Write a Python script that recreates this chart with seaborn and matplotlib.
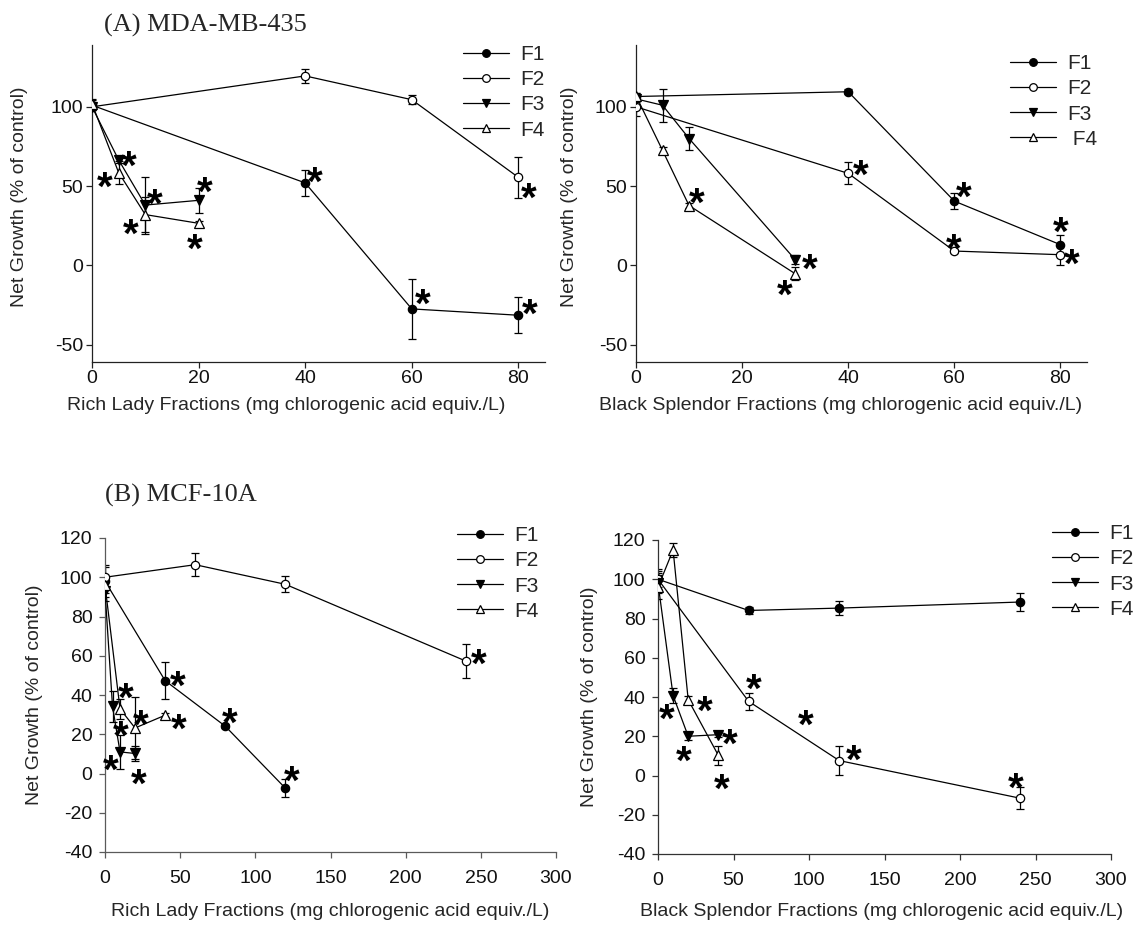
import numpy as np
import pandas as pd
import matplotlib
matplotlib.use("Agg")
import matplotlib.pyplot as plt
from matplotlib.lines import Line2D
import seaborn as sns

sns.set_theme(style="ticks")
plt.rcParams['font.family'] = ['Liberation Sans', 'DejaVu Sans']
plt.rcParams['axes.unicode_minus'] = False

# ---------------- data ----------------
series_names = ["F1", "F2", "F3", "F4"]

# (A) MDA-MB-435, Rich Lady
a_rl_x = {"F1": [0, 40, 60, 80], "F2": [0, 40, 60, 80], "F3": [0, 5, 10, 20], "F4": [0, 5, 10, 20]}
a_rl_y = {"F1": [101, 52, -27.5, -31.5], "F2": [100, 119.5, 104.5, 55.5],
          "F3": [100, 66.5, 38, 41], "F4": [102, 58.5, 32, 26.5]}
a_rl_e = {"F1": [3, 8, 19, 11.5], "F2": [2, 4.5, 3, 13], "F3": [2, 2, 18, 8], "F4": [3, 7.5, 11, 1.5]}
a_rl_star_x = [6.8, 2.4, 11.8, 7.3, 21.2, 19.3, 41.8, 62, 82.2, 82]
a_rl_star_y = [69, 55.5, 45, 26, 52.3, 16.5, 58.7, -18.4, -24.7, 48.5]

# (A) MDA-MB-435, Black Splendor
a_bs_x = {"F1": [0, 40, 60, 80], "F2": [0, 40, 60, 80], "F3": [0, 5, 10, 30], "F4": [0, 5, 10, 30]}
a_bs_y = {"F1": [106.5, 109.5, 40.5, 13], "F2": [100, 58, 9, 6.7],
          "F3": [105, 101, 80, 3.6], "F4": [107, 72.5, 37.7, -5.3]}
a_bs_e = {"F1": [2, 1.5, 5, 6], "F2": [6, 7, 1, 6.5], "F3": [2, 10.5, 7, 3], "F4": [2, 2, 1.5, 4]}
a_bs_star_x = [11.4, 32.8, 28, 42.3, 61.7, 59.8, 80, 82.2]
a_bs_star_y = [45.7, 4, -12.8, 62.9, 49.2, 16.5, 27, 7]

# (B) MCF-10A, Rich Lady
b_rl_x = {"F1": [0, 40, 80, 120], "F2": [0, 60, 120, 240], "F3": [0, 5, 10, 20], "F4": [0, 10, 20, 40]}
b_rl_y = {"F1": [98, 47.3, 24.1, -7.5], "F2": [100, 106.4, 96.4, 57.3],
          "F3": [93, 34.2, 11, 10.2], "F4": [96, 32.9, 23.2, 29.7]}
b_rl_e = {"F1": [8, 9.3, 1, 4.5], "F2": [5, 5.8, 4, 8.7], "F3": [5, 8, 8.5, 4], "F4": [4, 5, 16, 1]}
b_rl_star_x = [3.8, 13.7, 10.4, 23.7, 22.6, 49.2, 48.6, 82.9, 124, 248.8]
b_rl_star_y = [6.6, 43.2, 24.1, 29.5, -0.5, 27.5, 49.5, 30.8, 1.2, 61]

# (B) MCF-10A, Black Splendor
b_bs_x = {"F1": [0, 60, 120, 240], "F2": [0, 60, 120, 240], "F3": [0, 10, 20, 40], "F4": [0, 10, 20, 40]}
b_bs_y = {"F1": [100, 84.1, 85.3, 88.4], "F2": [100, 37.8, 7.6, -11.6],
          "F3": [98, 40.7, 20, 20.8], "F4": [96, 114.9, 38.6, 10.2]}
b_bs_e = {"F1": [4, 2, 3.5, 4.7], "F2": [5, 4.3, 7.5, 5.5], "F3": [5, 4, 2, 1], "F4": [6, 3.5, 2, 5]}
b_bs_star_x = [5.7, 30.9, 17.2, 47.7, 41.9, 63.6, 97.8, 129.4, 237]
b_bs_star_y = [33.9, 38.1, 12.4, 20.8, -2, 49.2, 30.7, 12.7, -1.5]

top_xticks = [0, 20, 40, 60, 80]
top_yticks = [-50, 0, 50, 100]
bot_xticks = [0, 50, 100, 150, 200, 250, 300]
bot_yticks = [-40, -20, 0, 20, 40, 60, 80, 100, 120]

xlab_rl = "Rich Lady Fractions (mg chlorogenic acid equiv./L)"
xlab_bs = "Black Splendor Fractions (mg chlorogenic acid equiv./L)"
ylab = "Net Growth (% of control)"
title_a = "(A) MDA-MB-435"
title_b = "(B) MCF-10A"

marker_style = {
    "F1": dict(marker="o", mfc="black", ms=6),
    "F2": dict(marker="o", mfc="white", ms=6),
    "F3": dict(marker="v", mfc="black", ms=6.5),
    "F4": dict(marker="^", mfc="white", ms=6.5),
}

W, H = 1135, 926
fig = plt.figure(figsize=(W / 100, H / 100), dpi=100)


def fx(px):
    return px / W


def fy(py):
    return 1 - py / H


def make_ax(l, r, t, b):
    ax = fig.add_axes([fx(l), fy(b), fx(r) - fx(l), fy(t) - fy(b)])
    ax._pix = (l, r, t, b)
    return ax


FS = 14
STAR_FS = 29


def panel(ax, xs, ys, es, sx, sy, xlim, ylim, xticks, yticks, xlabel, xlab_pos, ylab_pos,
          xpad, ypad, spine_col, leg_pos, leg_labels):
    l, r, t, b = ax._pix
    for name in series_names:
        df = pd.DataFrame({"x": xs[name], "y": ys[name]})
        st = marker_style[name]
        sns.lineplot(data=df, x="x", y="y", ax=ax, color="black", lw=0.9,
                     marker=st["marker"], markersize=st["ms"], markerfacecolor=st["mfc"],
                     markeredgecolor="black", markeredgewidth=0.9, errorbar=None,
                     sort=False, zorder=3)
        ax.errorbar(xs[name], ys[name], yerr=es[name], fmt="none", ecolor="black",
                    elinewidth=0.9, capsize=3.2, capthick=0.9, zorder=2)
    for x, y in zip(sx, sy):
        ax.annotate("*", xy=(x, y), xytext=(0, -0.56 * STAR_FS), textcoords="offset points",
                    ha="center", va="baseline", fontsize=STAR_FS, fontweight="bold",
                    color="black", annotation_clip=False)
    ax.set_xlim(*xlim)
    ax.set_ylim(*ylim)
    ax.set_xticks(xticks)
    ax.set_yticks(yticks)
    ax.set_xlabel(xlabel, fontsize=FS, va="center", ha="center")
    ax.set_ylabel(ylab, fontsize=FS, va="center", ha="center")
    ax.xaxis.set_label_coords((xlab_pos[0] - l) / (r - l), (b - xlab_pos[1]) / (b - t))
    ax.yaxis.set_label_coords((ylab_pos[0] - l) / (r - l), (b - ylab_pos[1]) / (b - t))
    ax.tick_params(axis="both", labelsize=FS, direction="out", length=4, width=0.9,
                   color=spine_col, labelcolor="#111111")
    ax.tick_params(axis="x", pad=xpad)
    ax.tick_params(axis="y", pad=ypad)
    for s in ["top", "right"]:
        ax.spines[s].set_visible(False)
    for s in ["left", "bottom"]:
        ax.spines[s].set_linewidth(0.9)
        ax.spines[s].set_color(spine_col)
    handles = []
    for name in series_names:
        st = marker_style[name]
        handles.append(Line2D([], [], color="black", lw=0.9, marker=st["marker"],
                              ms=st["ms"] - 0.5, mfc=st["mfc"], mec="black", mew=0.9))
    ax.legend(handles, leg_labels, loc="upper left",
              bbox_to_anchor=(fx(leg_pos[0]), fy(leg_pos[1])),
              bbox_transform=fig.transFigure, frameon=False, fontsize=15,
              handlelength=2.2, handletextpad=0.55, labelspacing=0.3, borderpad=0,
              borderaxespad=0)


ax1 = make_ax(92, 545, 45, 362)
panel(ax1, a_rl_x, a_rl_y, a_rl_e, a_rl_star_x, a_rl_star_y, (0, 85), (-61, 139),
      top_xticks, top_yticks, xlab_rl, (286, 405), (20, 197), 2, 2.5, "#222222",
      (463, 45), ["F1", "F2", "F3", "F4"])

ax2 = make_ax(636, 1087, 45, 362)
panel(ax2, a_bs_x, a_bs_y, a_bs_e, a_bs_star_x, a_bs_star_y, (0, 85), (-61, 139),
      top_xticks, top_yticks, xlab_bs, (841, 405), (570, 197), 2, 2.5, "#222222",
      (1010, 54), ["F1", "F2", "F3", " F4"])

ax3 = make_ax(105, 556, 538, 852)
panel(ax3, b_rl_x, b_rl_y, b_rl_e, b_rl_star_x, b_rl_star_y, (0, 300), (-40, 120),
      bot_xticks, bot_yticks, xlab_rl, (330, 911), (35, 695), 9, 5, "#5a5a5a",
      (457, 526), ["F1", "F2", "F3", "F4"])

ax4 = make_ax(658, 1111, 540, 854)
panel(ax4, b_bs_x, b_bs_y, b_bs_e, b_bs_star_x, b_bs_star_y, (0, 300), (-40, 120),
      bot_xticks, bot_yticks, xlab_bs, (882, 911), (589, 697), 9, 5, "#333333",
      (1052, 524), ["F1", "F2", "F3", "F4"])

fig.text(fx(104), fy(32), title_a, family=["Liberation Serif", "DejaVu Serif"],
         fontsize=19, ha="left", va="baseline")
fig.text(fx(105), fy(502), title_b, family=["Liberation Serif", "DejaVu Serif"],
         fontsize=19, ha="left", va="baseline")

fig.savefig("out.png", dpi=100)
